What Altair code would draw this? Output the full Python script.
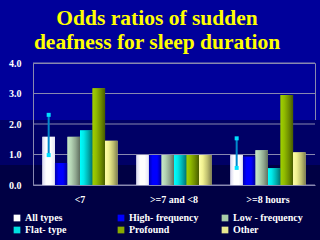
import altair as alt
import pandas as pd

categories = ["<7", ">=7 and <8", ">=8 hours"]
types = ["All types", "High- frequency", "Low - frequency", "Flat- type", "Profound", "Other"]
all_types = [1.58, 0.98, 0.98]
high_freq = [0.72, 0.98, 0.93]
low_freq = [1.58, 0.98, 1.14]
flat_type = [1.79, 0.98, 0.55]
profound = [3.17, 0.98, 2.95]
other = [1.45, 0.98, 1.07]
ci_categories = ["<7", ">=8 hours"]
ci_low = [0.98, 0.56]
ci_high = [2.30, 1.53]
y_ticks = [0, 1, 2, 3, 4]

series = [all_types, high_freq, low_freq, flat_type, profound, other]
rows = []
for t, vals in zip(types, series):
    for c, v in zip(categories, vals):
        rows.append({"category": c, "type": t, "value": v})
df = pd.DataFrame(rows)
ci = pd.DataFrame({"category": ci_categories, "type": "All types", "lo": ci_low, "hi": ci_high})
ticks_df = pd.DataFrame({"tick": y_ticks})

base_colors = ["#ffffff", "#0000ff", "#a8cca8", "#00e0e0", "#88aa00", "#e8e890"]
grads = [
    ["#d8d8f0", "#ffffff", "#ffffff", "#e4e4f4"],
    ["#0000b0", "#0000ff", "#0000ff", "#000090"],
    ["#c8e8c8", "#b4d4b4", "#90a890", "#607060"],
    ["#00ffff", "#00e8e8", "#00b0b0", "#007070"],
    ["#a0d000", "#90bb00", "#708f00", "#485c00"],
    ["#ffffa8", "#f0f090", "#c0c070", "#808050"],
]

FONT = "Liberation Serif"
GRID = "#8888b0"

xenc = alt.X("category:N", sort=categories,
             scale=alt.Scale(paddingInner=0.2, paddingOuter=0.1),
             axis=alt.Axis(title=None, labelAngle=0, ticks=False, labelPadding=9,
                           domainColor=GRID, labelFont=FONT, labelFontWeight="bold",
                           labelFontSize=10, labelColor="white", zindex=1))
xoff = alt.XOffset("type:N", sort=types, scale=alt.Scale(domain=types))
yaxis = alt.Axis(title=None, values=y_ticks, tickCount=5, format=".1f", grid=False,
                 labelOverlap=False, tickSize=0, labelPadding=12, domainColor=GRID,
                 labelFont=FONT, labelFontWeight="bold", labelFontSize=10,
                 labelColor="white", zindex=1)
yscale = alt.Scale(domain=[0, 4], nice=False)

one = alt.Data(values=[{"a": 1}])
band_mid = alt.Chart(one).mark_rect(color="#000066").encode(
    x=alt.value(-40), x2=alt.value(300), y=alt.value(57), y2=alt.value(102))
band_low = alt.Chart(one).mark_rect(color="#000044").encode(
    x=alt.value(-40), x2=alt.value(300), y=alt.value(102), y2=alt.value(180))

grid = alt.Chart(ticks_df).mark_rule(color=GRID, strokeWidth=1).encode(
    y=alt.Y("tick:Q", scale=yscale, axis=yaxis))

bars = alt.Chart(df).mark_bar().encode(
    x=xenc, xOffset=xoff, y=alt.Y("value:Q", scale=yscale, axis=yaxis),
    color=alt.Color("type:N", sort=types,
                    scale=alt.Scale(domain=types, range=base_colors),
                    legend=alt.Legend(title=None, orient="none", legendX=-21, legendY=150,
                                      direction="horizontal", columns=3, gridAlign="all",
                                      symbolType="square", symbolSize=45, symbolStrokeWidth=0,
                                      labelFont=FONT, labelFontWeight="bold", labelFontSize=10,
                                      labelColor="white", labelOffset=3, columnPadding=21,
                                      rowPadding=2, padding=0))
)

overlays = []
for t, g in zip(types, grads):
    grad = alt.LinearGradient(gradient="linear", x1=0, x2=1, y1=0, y2=0,
                              stops=[alt.GradientStop(color=g[0], offset=0),
                                     alt.GradientStop(color=g[1], offset=0.3),
                                     alt.GradientStop(color=g[2], offset=0.65),
                                     alt.GradientStop(color=g[3], offset=1)])
    overlays.append(
        alt.Chart(df).transform_filter(alt.datum.type == t).mark_bar(fill=grad).encode(
            x=alt.X("category:N", sort=categories), xOffset=xoff,
            y=alt.Y("value:Q", scale=yscale, axis=yaxis))
    )

err = alt.Chart(ci).mark_rule(color="#0088cc", strokeWidth=2).encode(
    x=alt.X("category:N", sort=categories), xOffset=xoff,
    y=alt.Y("lo:Q", scale=yscale, axis=yaxis), y2="hi:Q")
cap_lo = alt.Chart(ci).mark_square(color="#00e0ff", size=16, opacity=1).encode(
    x=alt.X("category:N", sort=categories), xOffset=xoff,
    y=alt.Y("lo:Q", scale=yscale, axis=yaxis))
cap_hi = alt.Chart(ci).mark_square(color="#00e0ff", size=16, opacity=1).encode(
    x=alt.X("category:N", sort=categories), xOffset=xoff,
    y=alt.Y("hi:Q", scale=yscale, axis=yaxis))

chart = alt.layer(band_mid, band_low, grid, bars, *overlays, err, cap_lo, cap_hi).properties(
    width=282, height=122,
    padding={"left": 33, "top": 63, "right": 5, "bottom": 55},
    autosize="none",
    background="#00009a",
    title=alt.TitleParams(["Odds ratios of sudden", "deafness for sleep duration"],
                          font=FONT, fontSize=21.5, fontWeight="bold", color="#ffff00",
                          anchor="middle", frame="group", dx=-17, offset=5, lineHeight=24),
).configure_view(stroke=GRID, strokeWidth=1).configure_axisY(labelOverlap=False)

chart.save("out.html", embed_options={"renderer": "svg", "actions": False})
